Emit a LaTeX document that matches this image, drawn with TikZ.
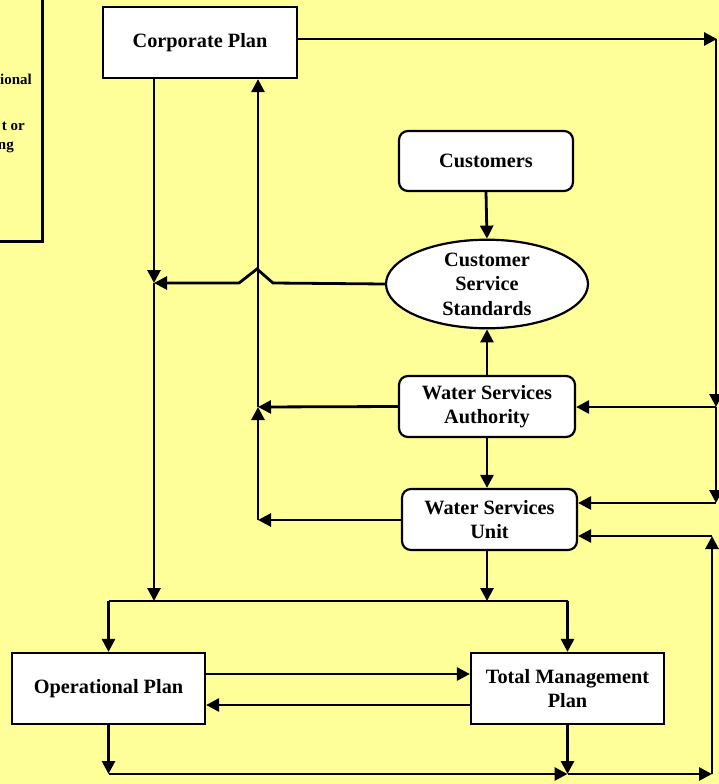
\documentclass[tikz,border=0pt]{standalone}
\usepackage{fontspec}
\setmainfont{Liberation Serif}
\usetikzlibrary{arrows.meta,shapes.geometric}
\definecolor{bgyellow}{HTML}{FFFF99}
\begin{document}
\begin{tikzpicture}[x=1pt,y=-1pt,
  box/.style={draw=black,line width=2.2pt,fill=white,align=center,
    inner sep=2pt,font=\bfseries\fontsize{20.3}{24.5}\selectfont},
  rbox/.style={box,rounded corners=9pt},
  frag/.style={anchor=east,inner sep=0pt,font=\bfseries\fontsize{15}{17}\selectfont},
  arr/.style={line width=2.8pt,-{Triangle[length=13pt,width=13pt]}},
  ln/.style={line width=2.8pt}]
  % page and background
  \useasboundingbox (0,0) rectangle (719,784);
  \fill[bgyellow] (0,0) rectangle (719,784);
  \begin{scope}
    \clip (0,0) rectangle (719,784);
    % box running off the top left corner
    \draw[line width=3pt] (-60,-20) rectangle (42,241);
    \node[frag] (fa) at (32,79) {ional};
    \node[frag] (fb) at (25,126) {t or};
    \node[frag] (fc) at (14,147) {ng};
  \end{scope}

  % boxes
  \node[box,minimum width=194pt,minimum height=71pt] (corp) at (200,42.5) {Corporate Plan};
  \node[rbox,minimum width=174pt,minimum height=60pt] (cust) at (486,161) {Customers};
  \node[box,ellipse,minimum width=202pt,minimum height=80pt,inner sep=0pt] (css) at (487,284) {Customer\\Service\\Standards};
  \node[rbox,minimum width=176pt,minimum height=61pt] (wsa) at (487,406.5) {Water Services\\Authority};
  \node[rbox,minimum width=175pt,minimum height=61pt] (wsu) at (489.5,519.5) {Water Services\\Unit};
  \node[box,minimum width=193pt,minimum height=71pt] (op) at (108.5,688.5) {Operational Plan};
  \node[box,minimum width=193pt,minimum height=71pt] (tmp) at (567.5,688.5) {Total Management\\Plan};

  % junction points
  \coordinate (jA) at (154,283);
  \coordinate (dA) at (154,601);
  \coordinate (cB) at (258,407);
  \coordinate (cB2) at (258,520);
  \coordinate (h1) at (273,283);
  \coordinate (h2) at (257,269);
  \coordinate (h3) at (239,283);
  \coordinate (rtop) at (717,39);
  \coordinate (rA) at (716,407);
  \coordinate (rB) at (716,503);
  \coordinate (bot) at (107,774);
  \coordinate (bR) at (712,774);
  \coordinate (rC) at (712,536);

  % corporate plan column
  \draw[arr] (corp.south -| jA) -- (jA);
  \draw[arr] (jA) -- (dA);
  \draw[arr] (css.west) -- (h1) -- (h2) -- (h3) -- (jA);

  % feedback column to corporate plan
  \draw[arr] (cB2) -- (cB);
  \draw[arr] (cB) -- (corp.south -| cB);
  \draw[arr] (wsa.west) -- (cB);
  \draw[arr] (wsu.west |- cB2) -- (cB2);

  % central chain
  \draw[arr] (cust.south) -- (css.north);
  \draw[arr] (wsa.north) -- (css.south);
  \draw[arr] (wsa.south) -- (wsa.south |- wsu.north);

  % right hand column
  \draw[arr] (corp.east |- rtop) -- (rtop);
  \draw[arr] ([xshift=-1pt]rtop) -- (rA);
  \draw[arr] (rA) -- (wsa.east |- rA);
  \draw[arr] (rA) -- (rB);
  \draw[arr] (rB) -- (wsu.east |- rB);

  % distribution to the plans
  \draw[ln] (op.north |- dA) -- (tmp.north |- dA);
  \draw[arr] (op.north |- dA) -- (op.north);
  \draw[arr] (tmp.north |- dA) -- (tmp.north);
  \draw[arr] (wsa.south |- wsu.south) -- (wsa.south |- dA);

  % between the plans
  \draw[arr] ([yshift=14.5pt]op.east) -- ([yshift=14.5pt]op.east -| tmp.west);
  \draw[arr] ([yshift=-16.5pt]tmp.west) -- ([yshift=-16.5pt]tmp.west -| op.east);

  % bottom return loop
  \draw[arr] (op.south) -- (op.south |- bot);
  \draw[arr] (op.south |- bot) -- (tmp.south |- bot);
  \draw[arr] (tmp.south) -- (tmp.south |- bot);
  \draw[arr] (tmp.south |- bot) -- (bR);
  \draw[arr] (bR) -- (rC);
  \draw[arr] (rC) -- (wsu.east |- rC);
\end{tikzpicture}
\end{document}
